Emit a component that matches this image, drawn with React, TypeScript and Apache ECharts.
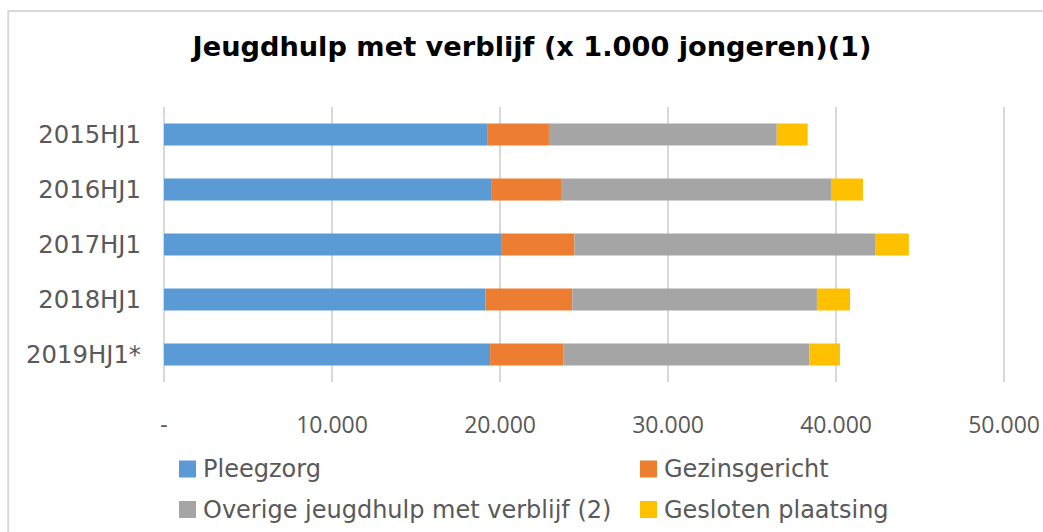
import React, { useEffect, useRef } from "react";
import * as echarts from "echarts";

const categories = ["2015HJ1", "2016HJ1", "2017HJ1", "2018HJ1", "2019HJ1*"];
const pleegzorg = [19270, 19510, 20060, 19130, 19410];
const gezinsgericht = [3640, 4120, 4370, 5170, 4350];
const overige = [13560, 16070, 17890, 14560, 14640];
const gesloten = [1840, 1900, 2010, 1970, 1830];
const seriesNames = [
  "Pleegzorg",
  "Gezinsgericht",
  "Overige jeugdhulp met verblijf (2)",
  "Gesloten plaatsing",
];
const seriesColors = ["#5B9BD5", "#ED7D31", "#A5A5A5", "#FFC000"];
const title = "Jeugdhulp met verblijf (x 1.000 jongeren)(1)";

const fmt = (v: number) =>
  v === 0 ? "-" : String(v).replace(/\B(?=(\d{3})+(?!\d))/g, ".");

export default function App() {
  const ref = useRef<HTMLDivElement>(null);
  useEffect(() => {
    document.body.style.margin = "0";
    const chart = echarts.init(ref.current!, null, { renderer: "svg" });
    const values = [pleegzorg, gezinsgericht, overige, gesloten];
    const legendPos = [
      { left: 179, top: 457 },
      { left: 640, top: 457 },
      { left: 179, top: 497.5 },
      { left: 640, top: 497.5 },
    ];
    chart.setOption({
      animation: false,
      backgroundColor: "#ffffff",
      title: {
        text: title,
        left: 527,
        top: 28,
        textAlign: "center",
        textStyle: {
          fontFamily: "DejaVu Sans",
          fontWeight: "bold",
          fontSize: 27.2,
          color: "#000000",
        },
      },
      graphic: [
        {
          type: "rect",
          silent: true,
          shape: { x: 8.25, y: 11, width: 1200, height: 700 },
          style: { fill: "none", stroke: "#d9d9d9", lineWidth: 2 },
        },
      ],
      legend: seriesNames.map((n, i) => ({
        data: [n],
        left: legendPos[i].left,
        top: legendPos[i].top,
        padding: 0,
        itemWidth: 17,
        itemHeight: 17,
        icon: "rect",
        selectedMode: false,
        textStyle: {
          fontFamily: "DejaVu Sans",
          fontSize: 24,
          color: "#595959",
          padding: [0, 0, 0, 2],
        },
      })),
      grid: { left: 164, right: 34, top: 107, bottom: 150, containLabel: false },
      xAxis: {
        type: "value",
        min: 0,
        max: 50000,
        interval: 10000,
        axisLine: { show: false },
        axisTick: { show: false },
        splitLine: { show: true, lineStyle: { color: "#d9d9d9", width: 2 } },
        axisLabel: {
          formatter: fmt,
          margin: 30,
          fontFamily: "Open Sans",
          fontSize: 23,
          color: "#595959",
        },
      },
      yAxis: {
        type: "category",
        data: categories,
        inverse: true,
        axisLine: { show: false },
        axisTick: { show: false },
        axisLabel: {
          margin: 23,
          fontFamily: "DejaVu Sans",
          fontSize: 24.3,
          color: "#595959",
        },
      },
      series: seriesNames.map((n, i) => ({
        name: n,
        type: "bar",
        stack: "total",
        data: values[i],
        barCategoryGap: "60%",
        itemStyle: { color: seriesColors[i] },
      })),
    });
    return () => chart.dispose();
  }, []);
  return <div ref={ref} style={{ width: 1043, height: 532 }} />;
}
